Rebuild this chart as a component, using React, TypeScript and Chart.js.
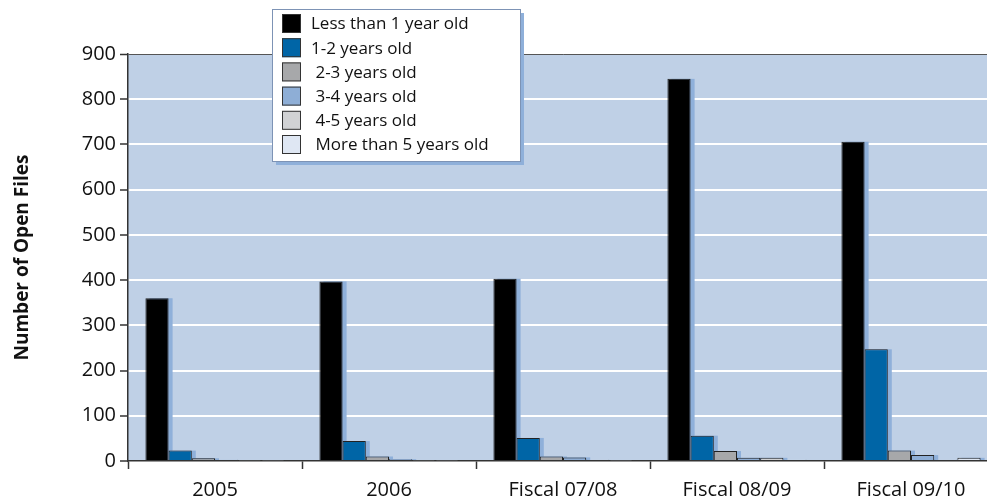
import React, { useEffect, useRef } from "react";
import { Chart, registerables } from "chart.js";

Chart.register(...registerables);

const categories = ["2005", "2006", "Fiscal 07/08", "Fiscal 08/09", "Fiscal 09/10"];
const seriesLabels = [
  "Less than 1 year old",
  "1-2 years old",
  " 2-3 years old",
  " 3-4 years old",
  " 4-5 years old",
  " More than 5 years old",
];
const lessThan1 = [360, 397, 403, 845, 706];
const years1to2 = [23, 44, 51, 56, 247];
const years2to3 = [6, 10, 10, 22, 23];
const years3to4 = [3, 4, 8, 7, 13];
const years4to5 = [1, 1, 3, 7, 3];
const moreThan5 = [1, 1, 1, 3, 7];
const seriesColors = ["#000000", "#0065a6", "#a7a8aa", "#8eaed6", "#d1d2d4", "#dfe7f3"];
const yTicks = [0, 100, 200, 300, 400, 500, 600, 700, 800, 900];

const FONT = "'Open Sans', sans-serif";

const bgPlugin = {
  id: "plotBg",
  beforeDraw(chart: any) {
    const { ctx, chartArea } = chart;
    ctx.save();
    ctx.fillStyle = "#bfd0e6";
    ctx.fillRect(chartArea.left, chartArea.top, chartArea.right - chartArea.left, chartArea.bottom - chartArea.top);
    ctx.restore();
  },
};

const shadowPlugin = {
  id: "barShadow",
  beforeDatasetsDraw(chart: any) {
    const { ctx, chartArea } = chart;
    ctx.save();
    ctx.beginPath();
    ctx.rect(chartArea.left, chartArea.top, chartArea.right - chartArea.left, chartArea.bottom - chartArea.top);
    ctx.clip();
    ctx.fillStyle = "#8fb0da";
    chart.data.datasets.forEach((ds: any, i: number) => {
      const meta = chart.getDatasetMeta(i);
      meta.data.forEach((el: any) => {
        const p = el.getProps(["x", "y", "base", "width"], true);
        if (p.base - p.y > 0.5) {
          ctx.fillRect(p.x - p.width / 2 + 4, p.y, p.width, p.base - p.y);
        }
      });
    });
    ctx.restore();
  },
};

const legendPlugin = {
  id: "boxLegend",
  afterDraw(chart: any) {
    const { ctx } = chart;
    const x0 = 272, y0 = 9, w = 248, h = 152;
    ctx.save();
    ctx.fillStyle = "#8fb0da";
    ctx.fillRect(x0 + 4, y0 + 4, w, h);
    ctx.fillStyle = "#ffffff";
    ctx.fillRect(x0, y0, w, h);
    ctx.strokeStyle = "#7d93b5";
    ctx.lineWidth = 1;
    ctx.strokeRect(x0 + 0.5, y0 + 0.5, w, h);
    ctx.font = `17px ${FONT}`;
    ctx.textBaseline = "middle";
    chart.data.datasets.forEach((ds: any, i: number) => {
      const cy = 23.5 + i * 24.2;
      ctx.fillStyle = ds.backgroundColor;
      ctx.fillRect(282, cy - 9.5, 19, 19);
      ctx.strokeStyle = "#333333";
      ctx.strokeRect(282.5, cy - 9, 18, 18);
      ctx.fillStyle = "#111111";
      ctx.fillText(ds.label, 311, cy + 1);
    });
    ctx.restore();
  },
};

export default function App() {
  const ref = useRef<HTMLCanvasElement | null>(null);

  useEffect(() => {
    if (!ref.current) return;
    const values = [lessThan1, years1to2, years2to3, years3to4, years4to5, moreThan5];
    const chart = new Chart(ref.current, {
      type: "bar",
      data: {
        labels: categories,
        datasets: values.map((v, i) => ({
          label: seriesLabels[i],
          data: v,
          backgroundColor: seriesColors[i],
          borderColor: "#222222",
          borderWidth: 1,
          categoryPercentage: 0.8,
          barPercentage: 1.0,
        })),
      },
      options: {
        animation: false,
        responsive: true,
        maintainAspectRatio: false,
        layout: { padding: { top: 54, right: 2, bottom: 1, left: 0 } },
        plugins: {
          legend: { display: false },
          tooltip: { enabled: false },
        },
        scales: {
          x: {
            afterFit: (scale: any) => {
              scale.height = 40;
            },
            grid: {
              offset: true,
              drawOnChartArea: false,
              drawTicks: true,
              tickLength: 8,
              tickColor: "#333333",
              tickWidth: 1.5,
            },
            border: { color: "#333333", width: 1.5 },
            ticks: {
              color: "#111111",
              font: { family: FONT, size: 20 },
              padding: 9,
              maxRotation: 0,
              autoSkip: false,
            },
          },
          y: {
            min: 0,
            max: 900,
            afterBuildTicks: (scale: any) => {
              scale.ticks = yTicks.map((v) => ({ value: v }));
            },
            afterFit: (scale: any) => {
              scale.width = 128;
            },
            grid: {
              color: (c: any) => (c.tick && c.tick.value === 900 ? "#555555" : c.tick && c.tick.value === 0 ? "rgba(0,0,0,0)" : "#ffffff"),
              lineWidth: (c: any) => (c.tick && c.tick.value === 900 ? 1 : 2),
              drawTicks: true,
              tickLength: 8,
              tickColor: "#333333",
              tickWidth: 1.5,
            },
            border: { color: "#333333", width: 1.5 },
            ticks: {
              color: "#111111",
              font: { family: FONT, size: 20 },
              padding: 4,
            },
            title: {
              display: true,
              text: "Number of Open Files",
              color: "#111111",
              font: { family: FONT, size: 19, weight: "bold" },
              padding: { top: 11, bottom: 0 },
            },
          },
        },
      },
      plugins: [bgPlugin, shadowPlugin, legendPlugin],
    });
    return () => chart.destroy();
  }, []);

  return (
    <div style={{ position: "absolute", left: 0, top: 0, width: 987, height: 502, overflow: "hidden", background: "#ffffff" }}>
      <div style={{ position: "relative", width: 1000, height: 502 }}>
        <canvas ref={ref} />
      </div>
    </div>
  );
}
